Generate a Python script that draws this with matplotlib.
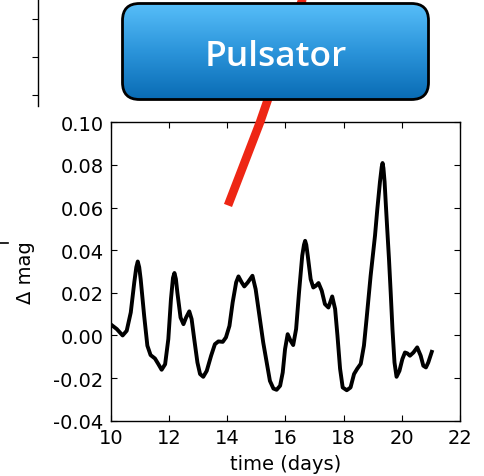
import numpy as np
import matplotlib
matplotlib.use("Agg")
import matplotlib.pyplot as plt
from matplotlib.patches import FancyBboxPatch
from matplotlib.lines import Line2D
from matplotlib.colors import LinearSegmentedColormap

# light curve (days, delta magnitude)
time = [10.03, 10.21, 10.41, 10.55, 10.69, 10.81, 10.88, 10.93, 10.98, 11.03, 11.15, 11.26,
        11.37, 11.52, 11.64, 11.75, 11.87, 11.98, 12.07, 12.14, 12.19, 12.24, 12.29, 12.40,
        12.50, 12.59, 12.70, 12.78, 12.87, 12.98, 13.07, 13.18, 13.30, 13.45,
        13.58, 13.70, 13.85, 13.96, 14.08, 14.19, 14.31, 14.39, 14.50, 14.59,
        14.71, 14.87, 14.98, 15.11, 15.24, 15.36, 15.47, 15.59, 15.70, 15.82,
        15.91, 15.99, 16.08, 16.18, 16.27, 16.37, 16.47, 16.58, 16.64, 16.68, 16.72, 16.77,
        16.87, 16.96, 17.05, 17.14, 17.25, 17.36, 17.48, 17.61, 17.71, 17.79,
        17.88, 17.97, 18.11, 18.24, 18.36, 18.47, 18.59, 18.70, 18.79, 18.93,
        19.08, 19.16, 19.25, 19.31, 19.34, 19.37, 19.41, 19.45, 19.50, 19.56, 19.62, 19.68, 19.75,
        19.82, 19.92, 20.02, 20.11, 20.19, 20.28, 20.40, 20.53, 20.65, 20.74,
        20.83, 20.91, 21.03]
dmag = [0.0049, 0.0030, 0.0000, 0.0022, 0.0108, 0.0249, 0.0320, 0.0347, 0.0320, 0.0264, 0.0092, -0.0048,
        -0.0092, -0.0108, -0.0135, -0.0161, -0.0135, -0.0017, 0.0170, 0.0270, 0.0293, 0.0265, 0.0202, 0.0084,
        0.0053, 0.0084, 0.0113, 0.0077, -0.0017, -0.0127, -0.0181, -0.0194, -0.0166, -0.0095,
        -0.0041, -0.0028, -0.0030, -0.0009, 0.0045, 0.0155, 0.0249, 0.0277, 0.0249, 0.0230,
        0.0249, 0.0280, 0.0217, 0.0092, -0.0033, -0.0127, -0.0213, -0.0249, -0.0255, -0.0236,
        -0.0174, -0.0064, 0.0006, -0.0025, -0.0045, 0.0030, 0.0202, 0.0374, 0.0425, 0.0444, 0.0425, 0.0374,
        0.0264, 0.0225, 0.0233, 0.0246, 0.0210, 0.0147, 0.0131, 0.0183, 0.0124, 0.0000,
        -0.0156, -0.0244, -0.0257, -0.0244, -0.0181, -0.0156, -0.0133, -0.0048, 0.0077, 0.0280,
        0.0468, 0.0593, 0.0720, 0.0790, 0.0809, 0.0785, 0.0720, 0.0620, 0.0500, 0.0360, 0.0200, 0.0030, -0.0127,
        -0.0194, -0.0166, -0.0111, -0.0080, -0.0084, -0.0095, -0.0080, -0.0056, -0.0095, -0.0142,
        -0.0150, -0.0127, -0.0077]

# red trend samples
trend_time = [14.03, 15.13, 16.72]
trend_dmag = [0.061, 0.100, 0.163]

xticks = [10, 12, 14, 16, 18, 20, 22]
yticks = [-0.04, -0.02, 0.00, 0.02, 0.04, 0.06, 0.08, 0.10]

plt.rcParams['font.family'] = ['DejaVu Sans']
plt.rcParams['font.size'] = 14
plt.rcParams['axes.unicode_minus'] = True

fig = plt.figure(figsize=(4.84, 4.77), dpi=100)
fig.patch.set_facecolor('white')

# neighbouring panel, only its right edge shows
ax0 = fig.add_axes([-0.4209, 0.7757, 0.5, 0.5019])
for side in ['left', 'top', 'bottom']:
    ax0.spines[side].set_visible(False)
ax0.spines['right'].set_linewidth(1.0)
ax0.set_ylim(-0.29, 6.01)
ax0.set_yticks([0, 1, 2, 3, 4, 5])
ax0.set_xticks([])
ax0.yaxis.set_ticks_position('right')
ax0.tick_params(axis='y', direction='in', length=4, labelright=False, labelleft=False)

fig.add_artist(Line2D([0.0, 8 / 484], [0.4885, 0.4885], color='black', lw=1.2))

# main light curve panel
ax = fig.add_axes([0.2287, 0.1159, 0.7217, 0.6256])
ax.plot(time, dmag, color='black', lw=2.8, solid_joinstyle='round')
ax.plot(trend_time, trend_dmag, color='#ee2614', lw=6.2, solid_capstyle='butt',
        clip_on=False, zorder=5)
ax.set_xlim(10, 22)
ax.set_ylim(-0.04, 0.10)
ax.set_xticks(xticks)
ax.set_yticks(yticks)
ax.set_yticklabels(['%.2f' % v for v in yticks])
ax.tick_params(direction='in', length=4, width=0.8, top=True, right=True, pad=5)
for s in ax.spines.values():
    s.set_linewidth(1.0)
ax.set_xlabel('time (days)', fontsize=14)
ax.set_ylabel('\u0394 mag', fontsize=14)
ax.yaxis.set_label_coords(-0.217, 0.5)
ax.xaxis.set_label_coords(0.5, -0.112)
ax.xaxis.label.set_va('top')

# badge on top
bx = fig.add_axes([121 / 484, 1 - 102 / 477, 309 / 484, 99 / 477], zorder=10)
bx.set_xlim(0, 309)
bx.set_ylim(0, 99)
bx.axis('off')
badge = FancyBboxPatch((1.5, 1.5), 306, 96, boxstyle='round,pad=0,rounding_size=17',
                       facecolor='none', edgecolor='black', lw=2.0, clip_on=False, zorder=3)
bx.add_patch(badge)
blues = LinearSegmentedColormap.from_list('badge', ['#086ab3', '#2b94da', '#58bffa'])
grad = np.linspace(0, 1, 256).reshape(-1, 1)
img = bx.imshow(grad, cmap=blues, origin='lower', extent=(0, 309, 0, 99), aspect='auto', zorder=1)
img.set_clip_path(badge)
bx.text(154.5, 36, 'Pulsator', color='white', fontsize=25.5, fontweight='semibold',
        family=['Open Sans', 'Liberation Sans', 'DejaVu Sans'], ha='center', va='baseline', zorder=4)

fig.savefig('out.png', dpi=100)
